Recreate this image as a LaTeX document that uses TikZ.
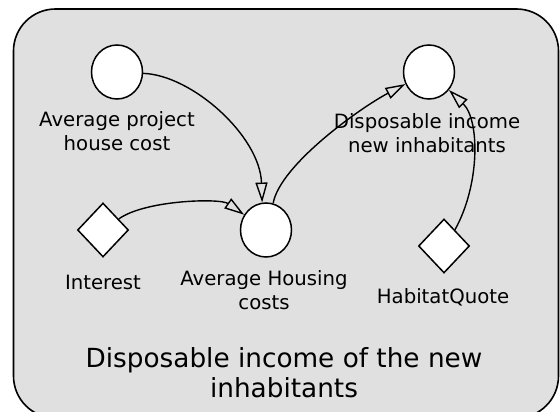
\documentclass[tikz,border=0pt]{standalone}
\usepackage{fontspec}
\setmainfont{DejaVu Sans}
\usetikzlibrary{shapes.geometric,arrows.meta}
\definecolor{panelgray}{RGB}{224,224,224}
\tikzset{
  var/.style={ellipse,draw,fill=white,line width=1.5pt,minimum width=51pt,minimum height=54pt,inner sep=0pt},
  param/.style={diamond,draw,fill=white,line width=1.5pt,minimum width=51pt,minimum height=54pt,inner sep=0pt},
  lbl/.style={align=center,inner sep=0pt,font=\fontsize{19.7}{24}\selectfont},
  link/.style={line width=1.4pt,-{Triangle[open,length=20pt,width=12pt,line width=1.4pt]}}
}
\begin{document}
\begin{tikzpicture}[x=1pt,y=-1pt]
\useasboundingbox (0,0) rectangle (560,412);
\clip (0,0) rectangle (560,412);
\draw[fill=panelgray,line width=1.6pt,rounded corners=42pt] (13.5,9) rectangle (558.5,418);

\node[var] (apc) at (117,72) {};
\node[var] (dni) at (429,72) {};
\node[var] (ahc) at (266,230) {};
\node[param] (int) at (103,230) {};
\node[param] (hq) at (444,246) {};

\node[lbl] (apcl) at (117,131) {Average project\\house cost};
\node[lbl] (dnil) at (427,133) {Disposable income\\new inhabitants};
\node[lbl] (intl) at (103,282) {Interest};
\node[lbl] (ahcl) at (264,290) {Average Housing\\costs};
\node[lbl] (hql) at (443,297) {HabitatQuote};
\node[align=center,inner sep=0pt,font=\fontsize{26.3}{30}\selectfont] (title) at (284,373) {Disposable income of the new\\inhabitants};

\draw[link] (apc.-3) .. controls (192,75) and (260,136) .. (ahc.98);
\draw[link] (int.35) .. controls (145,200) and (220,198) .. (ahc.145);
\draw[link] (ahc.75) .. controls (280,165) and (360,108) .. (dni.207);
\draw[link] (hq.56) .. controls (480,185) and (480,120) .. (dni.-42);
\end{tikzpicture}
\end{document}
